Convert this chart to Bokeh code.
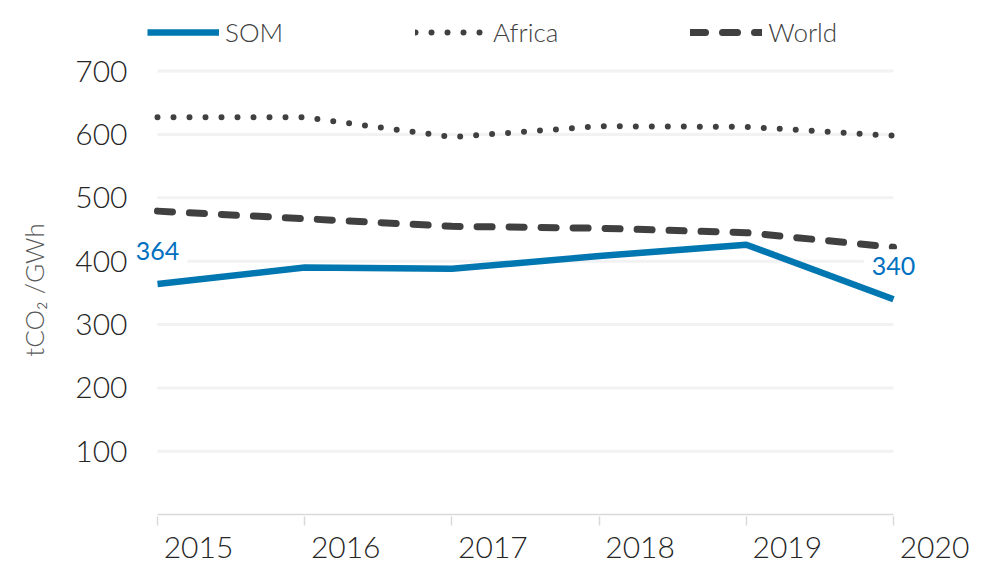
from bokeh.plotting import figure
from bokeh.layouts import column
from bokeh.models import (FixedTicker, Legend, LegendItem, Label, Range1d,
                          LinearAxis)
from bokeh.embed import file_html
from bokeh.resources import INLINE

years = [2015, 2016, 2017, 2018, 2019, 2020]
year_labels = ["2015", "2016", "2017", "2018", "2019", "2020"]
som = [364, 390, 388, 408, 426, 340]
africa = [627, 627, 596, 613, 612, 598]
world = [479, 467, 455, 452, 445, 422]
y_ticks = [100, 200, 300, 400, 500, 600, 700]
series_names = ["SOM", "Africa", "World"]

FONT = "Lato Light"
LFONT = "Lato"
BLUE = "#0077B0"
DARK = "#404040"
STYLES = [dict(line_color=BLUE, line_width=6.5),
          dict(line_color=DARK, line_width=6, line_dash="0 16", line_cap="round"),
          dict(line_color=DARK, line_width=7, line_dash="15 17", line_cap="round")]

PX_PER_YEAR = 147.2
x_start = years[0] - 26 / PX_PER_YEAR
x_end = years[-1] + 45 / PX_PER_YEAR
shift = 41 / PX_PER_YEAR

LEFT = 131
RIGHT = 996 - 938

# ---------------- legend strip ----------------
# the legend's sample lines use the same series; the strip's ranges keep the
# data itself out of view so only the legend is shown
lg = figure(width=996, height=50, output_backend="svg", toolbar_location=None,
            x_range=Range1d(0, 1), y_range=Range1d(0, 1),
            min_border_left=LEFT, min_border_right=RIGHT, min_border_top=0,
            min_border_bottom=0)
lg.axis.visible = False
lg.grid.visible = False
lg.outline_line_color = None
items = []
for name, vals, st in zip(series_names, [som, africa, world], STYLES):
    r = lg.line(years, vals, **st)
    items.append(LegendItem(label=name, renderers=[r]))
legend = Legend(items=items, orientation="horizontal", location=(16, 2),
                glyph_width=72, glyph_height=30, label_standoff=6, spacing=132,
                padding=0, margin=0, border_line_color=None,
                background_fill_alpha=0,
                label_text_font=FONT, label_text_font_size="26px",
                label_text_color=DARK)
lg.add_layout(legend)

# ---------------- main chart ----------------
p = figure(width=996, height=516, output_backend="svg", toolbar_location=None,
           x_range=Range1d(x_start, x_end), y_range=Range1d(-3, 712),
           min_border_left=LEFT, min_border_right=RIGHT,
           min_border_top=13, min_border_bottom=50)
p.outline_line_color = None
p.background_fill_color = "white"
p.xgrid.grid_line_color = None
p.ygrid.grid_line_color = None

# x axis: tick marks only
p.xaxis.ticker = FixedTicker(ticks=years)
p.xaxis.major_label_overrides = {y: "" for y in years}
p.xaxis.major_label_text_font_size = "1px"
p.xaxis.major_label_standoff = 0
p.xaxis.axis_line_color = None
p.xaxis.major_tick_line_color = "#D9D9D9"
p.xaxis.major_tick_line_width = 1.5
p.xaxis.major_tick_out = 9
p.xaxis.major_tick_in = 0
p.xaxis.minor_tick_line_color = None

# second x axis carrying the year labels, offset to the right like the original
p.extra_x_ranges = {"lab": Range1d(x_start - shift, x_end - shift)}
lab_axis = LinearAxis(x_range_name="lab", ticker=FixedTicker(ticks=years),
                      major_label_overrides={y: t for y, t in zip(years, year_labels)})
lab_axis.axis_line_color = None
lab_axis.major_tick_line_color = None
lab_axis.minor_tick_line_color = None
lab_axis.major_tick_out = 0
lab_axis.major_tick_in = 0
lab_axis.major_label_standoff = 11
lab_axis.major_label_text_font = FONT
lab_axis.major_label_text_font_size = "30px"
lab_axis.major_label_text_color = "#262626"
p.add_layout(lab_axis, "below")

# y axis
p.yaxis.ticker = FixedTicker(ticks=y_ticks)
p.yaxis.axis_line_color = None
p.yaxis.major_tick_line_color = None
p.yaxis.minor_tick_line_color = None
p.yaxis.major_tick_out = 0
p.yaxis.major_tick_in = 0
p.yaxis.major_label_standoff = 4
p.yaxis.major_label_text_font = FONT
p.yaxis.major_label_text_font_size = "30px"
p.yaxis.major_label_text_color = "#262626"
p.yaxis.axis_label = "tCO\u2082 /GWh"
p.yaxis.axis_label_text_font = FONT
p.yaxis.axis_label_text_font_size = "26px"
p.yaxis.axis_label_text_font_style = "normal"
p.yaxis.axis_label_text_color = "#595959"
p.yaxis.axis_label_standoff = 22

# gridlines and axis line spanning the year range
n = len(y_ticks)
p.segment(x0=[years[0]] * n, x1=[years[-1]] * n, y0=y_ticks, y1=y_ticks,
          line_color="#F2F2F2", line_width=3)
p.segment(x0=[years[0]], x1=[years[-1]], y0=[0], y1=[0],
          line_color="#D9D9D9", line_width=1.5)

for vals, st in zip([som, africa, world], STYLES):
    p.line(years, vals, **st)

for i in (0, len(years) - 1):
    p.add_layout(Label(x=years[i], y=som[i], text=str(som[i]), y_offset=33,
                       text_align="center", text_baseline="middle",
                       text_font=LFONT, text_font_size="25px",
                       text_color="#0070C0", background_fill_color="white",
                       padding=8))

layout = column(lg, p, spacing=0)
open("out.html", "w").write(file_html(layout, INLINE))
